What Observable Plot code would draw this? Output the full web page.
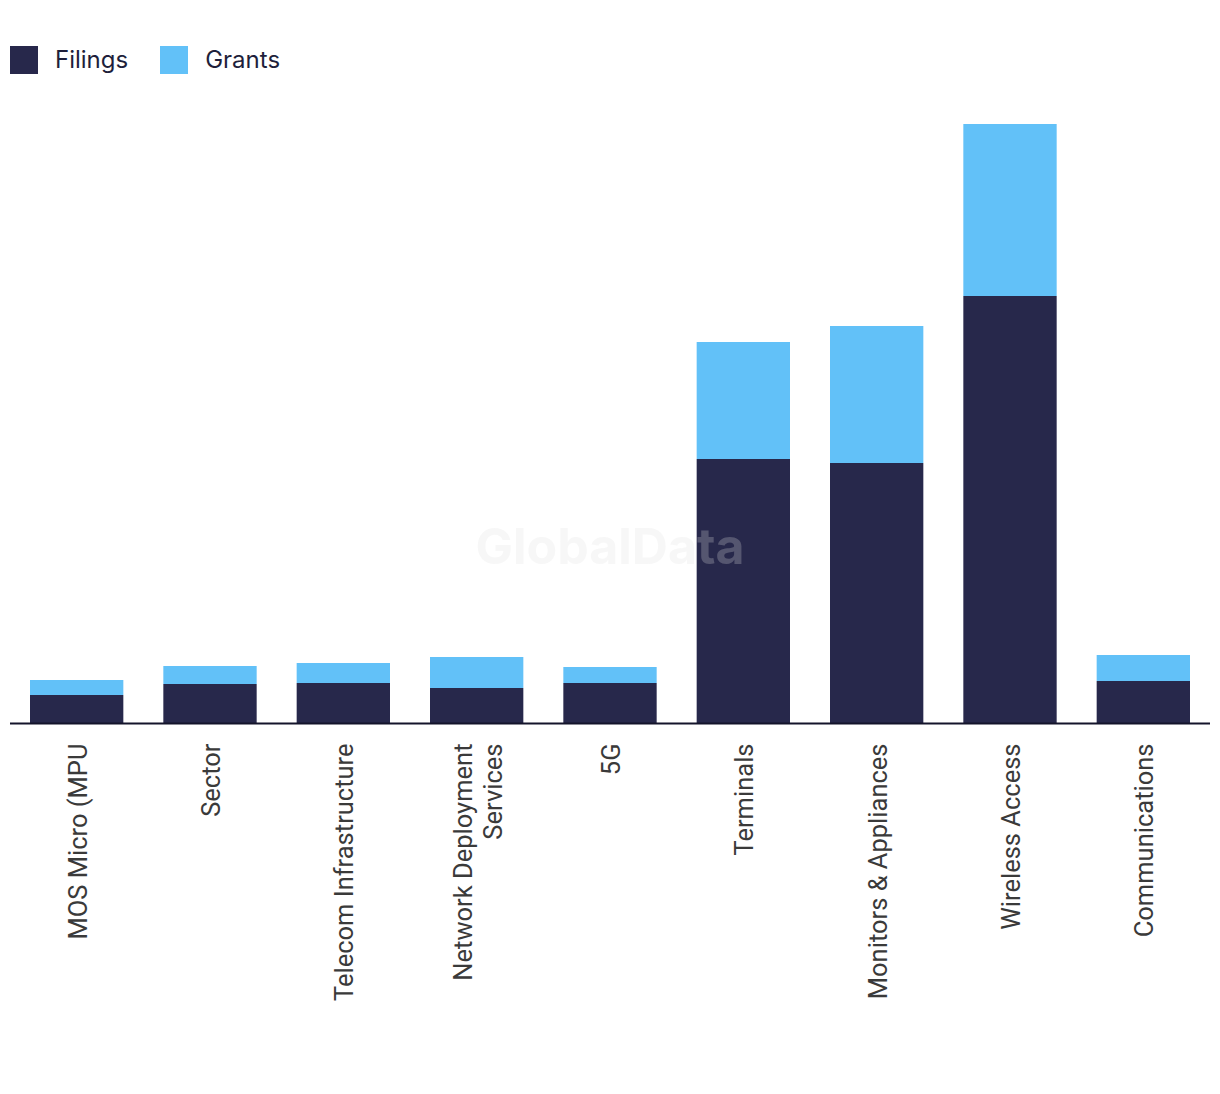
<!DOCTYPE html>
<html>
<head>
<meta charset="utf-8">
<script src="https://cdn.jsdelivr.net/npm/d3@7"></script>
<script src="https://cdn.jsdelivr.net/npm/@observablehq/plot@0.6"></script>
<style>
  body { margin: 0; background: #fff; }
  #wrap { position: relative; width: 1220px; height: 1094px; }
  #legend { position: absolute; left: 10px; top: 45px; display: flex; align-items: center; font-family: Inter, "Open Sans", sans-serif; font-size: 24px; color: #1e1f3b; }
  .item { display: flex; align-items: center; }
  .sw { width: 28px; height: 28px; margin-right: 17px; }
  #wm { position: absolute; left: 0; width: 1220px; top: 516px; text-align: center; font-family: Inter, sans-serif; font-weight: 700; font-size: 50px; color: rgba(223,223,223,0.25); pointer-events: none; }
  #chart svg text { font-family: Roboto, sans-serif; }
</style>
</head>
<body>
<div id="wrap">
  <div id="chart"></div>
  <div id="legend"></div>
  <div id="wm">GlobalData</div>
</div>
<script>
const categories = ["MOS Micro (MPU", "Sector", "Telecom Infrastructure", "Network Deployment Services", "5G", "Terminals", "Monitors & Appliances", "Wireless Access", "Communications"];
const filings = [28, 39, 40, 35, 40, 264, 260, 427, 42];
const grants  = [15, 18, 20, 31, 16, 117, 137, 172, 26];
const seriesNames = ["Filings", "Grants"];
const seriesColors = ["#27284b", "#62c1f8"];

const data = categories.flatMap((c, i) => [
  {category: c, type: "Filings", value: filings[i]},
  {category: c, type: "Grants", value: grants[i]}
]);

const chart = Plot.plot({
  width: 1220,
  height: 1094,
  marginTop: 124,
  marginBottom: 371,
  marginLeft: 10,
  marginRight: 10,
  x: {domain: categories, paddingInner: 0.3, paddingOuter: 0.15, round: false, label: null},
  y: {domain: [0, 599], axis: null},
  color: {domain: seriesNames, range: seriesColors},
  style: {fontFamily: "Roboto, sans-serif", fontSize: "25.5px", background: "transparent"},
  marks: [
    Plot.barY(data, Plot.stackY({x: "category", y: "value", fill: "type"})),
    Plot.ruleY([0], {stroke: "#14142b", strokeWidth: 2}),
    Plot.axisX({
      tickSize: 0, tickPadding: 20, tickRotate: -90,
      textAnchor: "end", lineAnchor: "middle", lineHeight: 1.18,
      fill: "#3a3a3a", fontSize: 25.5,
      tickFormat: d => d.replace("Deployment ", "Deployment\n")
    })
  ]
});
document.getElementById("chart").appendChild(chart);

const legend = document.getElementById("legend");
seriesNames.forEach((n, i) => {
  const it = document.createElement("div");
  it.className = "item";
  it.style.marginRight = i === 0 ? "32px" : "0";
  it.innerHTML = `<div class="sw" style="background:${seriesColors[i]}"></div><span>${n}</span>`;
  legend.appendChild(it);
});
</script>
</body>
</html>
